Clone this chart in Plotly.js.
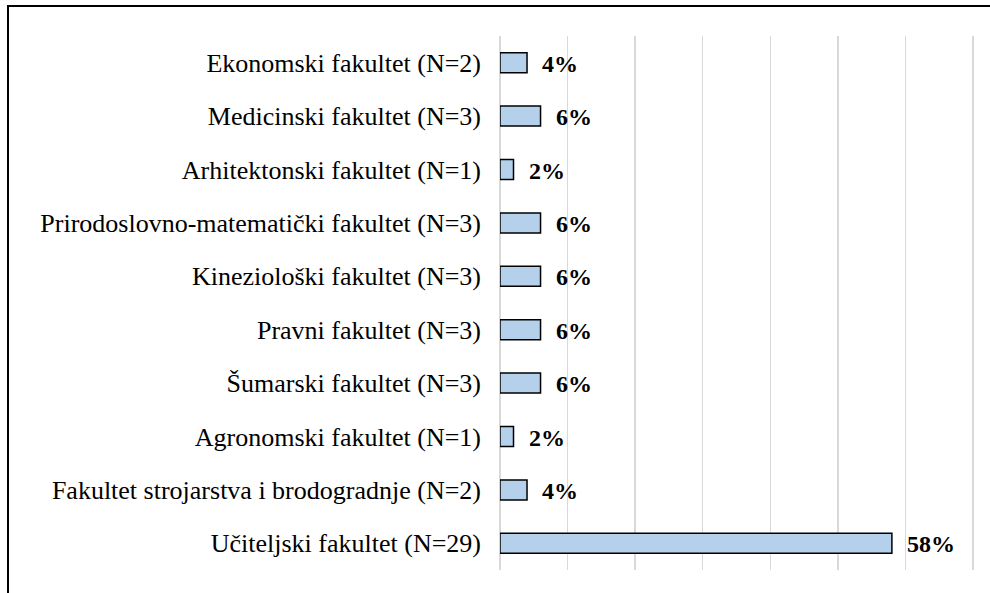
<!DOCTYPE html>
<html>
<head>
<meta charset="utf-8">
<script src="https://cdn.plot.ly/plotly-3.0.1.min.js"></script>
<style>
html, body { margin: 0; padding: 0; background: #ffffff; overflow: hidden; }
#chart { width: 990px; height: 593px; position: absolute; left: 0; top: 0; }
#frame { position: absolute; left: 7px; top: 5px; width: 2000px; height: 2000px;
  border-left: 2px solid #000; border-top: 2px solid #000; pointer-events: none; }
</style>
</head>
<body>
<div id="chart"></div>
<div id="frame"></div>
<script>
const categories = [
  "Ekonomski fakultet (N=2)",
  "Medicinski fakultet (N=3)",
  "Arhitektonski fakultet (N=1)",
  "Prirodoslovno-matematički fakultet (N=3)",
  "Kineziološki fakultet (N=3)",
  "Pravni fakultet (N=3)",
  "Šumarski fakultet (N=3)",
  "Agronomski fakultet (N=1)",
  "Fakultet strojarstva i brodogradnje (N=2)",
  "Učiteljski fakultet (N=29)"
];
const percentages = [4, 6, 2, 6, 6, 6, 6, 2, 4, 58];
const valueLabels = ["4%", "6%", "2%", "6%", "6%", "6%", "6%", "2%", "4%", "58%"];

const SERIF = "'Liberation Serif', 'Times New Roman', serif";

const trace = {
  type: "bar",
  orientation: "h",
  x: percentages,
  y: categories,
  marker: { color: "#b4d0ea", line: { color: "#000000", width: 1.5 } },
  hoverinfo: "none"
};

const annotations = categories.map((c, i) => ({
  x: percentages[i],
  y: c,
  xref: "x",
  yref: "y",
  text: "<b>" + valueLabels[i] + "</b>",
  showarrow: false,
  xanchor: "left",
  xshift: 13,
  yshift: -1,
  font: { family: SERIF, size: 24, color: "#000" }
}));

const layout = {
  width: 990,
  height: 593,
  margin: { l: 500, r: 15, t: 36, b: 23, pad: 0 },
  paper_bgcolor: "rgba(0,0,0,0)",
  plot_bgcolor: "rgba(0,0,0,0)",
  showlegend: false,
  bargap: 0.625,
  font: { family: SERIF, color: "#000" },
  xaxis: {
    range: [0, 70.3],
    dtick: 10,
    tick0: 0,
    showticklabels: false,
    showgrid: true,
    gridcolor: "#d9d9d9",
    gridwidth: 1.5,
    zeroline: true,
    zerolinecolor: "#d9d9d9",
    zerolinewidth: 1.5,
    showline: false,
    ticks: ""
  },
  yaxis: {
    autorange: "reversed",
    showgrid: false,
    zeroline: false,
    showline: false,
    ticks: "",
    ticklabelstandoff: 18,
    tickfont: { family: SERIF, size: 26, color: "#000" }
  },
  annotations: annotations
};

Plotly.newPlot("chart", [trace], layout, { displayModeBar: false, staticPlot: true });
</script>
</body>
</html>
